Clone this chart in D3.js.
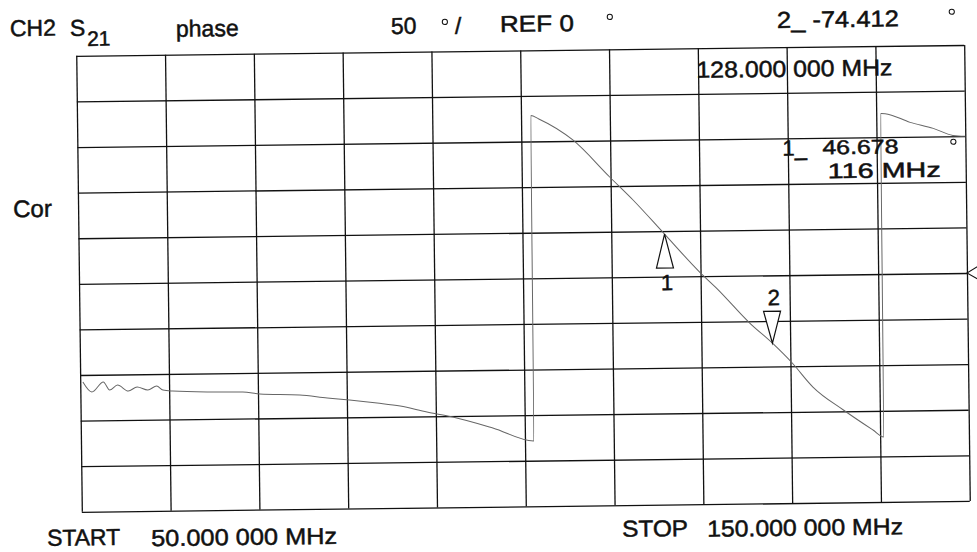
<!DOCTYPE html>
<html>
<head>
<meta charset="utf-8">
<script src="https://cdn.jsdelivr.net/npm/d3@7"></script>
<style>
  body { margin: 0; background: #fff; }
  text { font-family: "Liberation Sans", Arial, sans-serif; fill: #111; stroke: #111; stroke-width: 0.5; }
</style>
</head>
<body>
<script>
// S21 phase sweep, 50..150 MHz, 50 deg/div, ref 0 at centre line
const width = 977, height = 552;

const freqMHz = [50.3, 51.3, 52.6, 53.3, 54.2, 55.4, 56.4, 57.6, 58.6, 59.3, 60.4, 64.6, 68.3, 70.2,
  74.7, 77.8, 80.3, 83.4, 86.0, 89.0, 91.9, 96.4, 101.0,
  101.1, 102.0, 105.8, 109.9, 112.5, 116.0, 119.9, 121.8, 125.5, 128.0, 130.2, 132.5, 135.9, 139.2, 140.4,
  140.5, 141.0, 143.8, 146.4, 148.6, 150.0];
const phaseDeg = [-107.7, -118.8, -108.0, -116.8, -111.5, -118.2, -113.9, -117.4, -113.0, -117.6, -118.8, -120.4, -120.8, -123.2,
  -124.9, -128.5, -131.0, -134.7, -138.3, -145.2, -151.0, -163.6, -178.4,
  178.5, 174.6, 151.1, 110.0, 84.5, 46.678, 4.6, -13.5, -52.3, -74.412, -96.4, -123.0, -148.6, -170.9, -178.7,
  176.0, 175.8, 165.9, 159.0, 151.0, 149.8];

const markerNames = ["1", "2"];
const markerFreq = [116, 128];
const markerPhase = [46.678, -74.412];

const xTicks = d3.range(50, 151, 10);
const yTicks = d3.range(-250, 251, 50);

const svg = d3.select("body").append("svg")
    .attr("width", width)
    .attr("height", height);

// the printout was scanned slightly skewed
const g = svg.append("g").attr("transform", "rotate(-0.7, 523, 278.4)");

const x = d3.scaleLinear().domain([50, 150]).range([79, 967]);
const y = d3.scaleLinear().domain([-250, 250]).range([506.4, 50.4]);

g.append("g")
    .attr("transform", `translate(0,${y(-250)})`)
    .call(d3.axisBottom(x).tickValues(xTicks).tickSize(-(y(-250) - y(250))).tickFormat(""))
    .call(a => a.select(".domain").remove())
    .selectAll("line").attr("stroke", "#111").attr("stroke-width", 1.3);

g.append("g")
    .attr("transform", `translate(${x(50)},0)`)
    .call(d3.axisLeft(y).tickValues(yTicks).tickSize(-(x(150) - x(50))).tickFormat(""))
    .call(a => a.select(".domain").remove())
    .selectAll("line").attr("stroke", "#111").attr("stroke-width", 1.3);

const line = d3.line()
    .x((d, i) => x(freqMHz[i]))
    .y(d => y(d))
    .curve(d3.curveMonotoneX);
g.append("path")
    .datum(phaseDeg)
    .attr("d", line)
    .attr("fill", "none")
    .attr("stroke", "#666")
    .attr("stroke-width", 1);

// markers: 1 points up from below, 2 points down from above
markerNames.forEach((m, i) => {
  const px = x(markerFreq[i]), py = y(markerPhase[i]);
  const up = i === 0;
  const tri = up
    ? [[px, py], [px - 8.5, py + 34], [px + 8.5, py + 34]]
    : [[px, py], [px - 8.5, py - 32], [px + 8.5, py - 32]];
  g.append("path")
      .attr("d", "M" + tri.join("L") + "Z")
      .attr("fill", "#fff")
      .attr("stroke", "#111")
      .attr("stroke-width", 1.2);
  g.append("text")
      .attr("x", px + 2)
      .attr("y", up ? py + 56 : py - 38)
      .attr("text-anchor", "middle")
      .attr("font-size", 22)
      .text(m);
});

// reference position arrow at right edge
const ry = y(0), rx = x(150);
g.append("path")
    .attr("d", `M${rx + 12},${ry - 7}L${rx},${ry}L${rx + 12},${ry + 7}`)
    .attr("fill", "none").attr("stroke", "#111").attr("stroke-width", 1);

// [text, x, y, font size, width]
const labels = [
  ["CH2", 13, 30, 23, 46],
  ["S", 73, 30.5, 23, null],
  ["21", 90, 40.6, 21, null],
  ["phase", 179, 32.5, 23, null],
  ["50", 394, 32.4, 23, null],
  ["/", 458, 33, 23, null],
  ["REF 0", 503, 31.7, 23, 74],
  ["2_ -74.412", 780, 31, 23, 122],
  ["128.000 000 MHz", 699, 80, 23, 196],
  ["1_", 784, 159, 22, null],
  ["46.678", 824, 158, 20, 76],
  ["116 MHz", 829, 182, 21, 113],
  ["Cor", 14, 211, 24, null],
  ["START", 44, 540, 23, 73],
  ["50.000 000 MHz", 148, 541.5, 23, 186],
  ["STOP", 619, 538, 23, 66],
  ["150.000 000 MHz", 704, 539, 23, 196]
];
g.selectAll("text.lbl")
    .data(labels)
    .enter().append("text")
    .attr("class", "lbl")
    .attr("x", d => d[1])
    .attr("y", d => d[2])
    .attr("font-size", d => d[3])
    .each(function(d) {
      if (d[4]) d3.select(this).attr("textLength", d[4]).attr("lengthAdjust", "spacingAndGlyphs");
    })
    .text(d => d[0]);

const degrees = [[448, 21], [613, 18], [955, 17], [955, 147]];
g.selectAll("circle.deg")
    .data(degrees)
    .enter().append("circle")
    .attr("class", "deg")
    .attr("cx", d => d[0]).attr("cy", d => d[1]).attr("r", 2.6)
    .attr("fill", "none").attr("stroke", "#111").attr("stroke-width", 1);
</script>
</body>
</html>
